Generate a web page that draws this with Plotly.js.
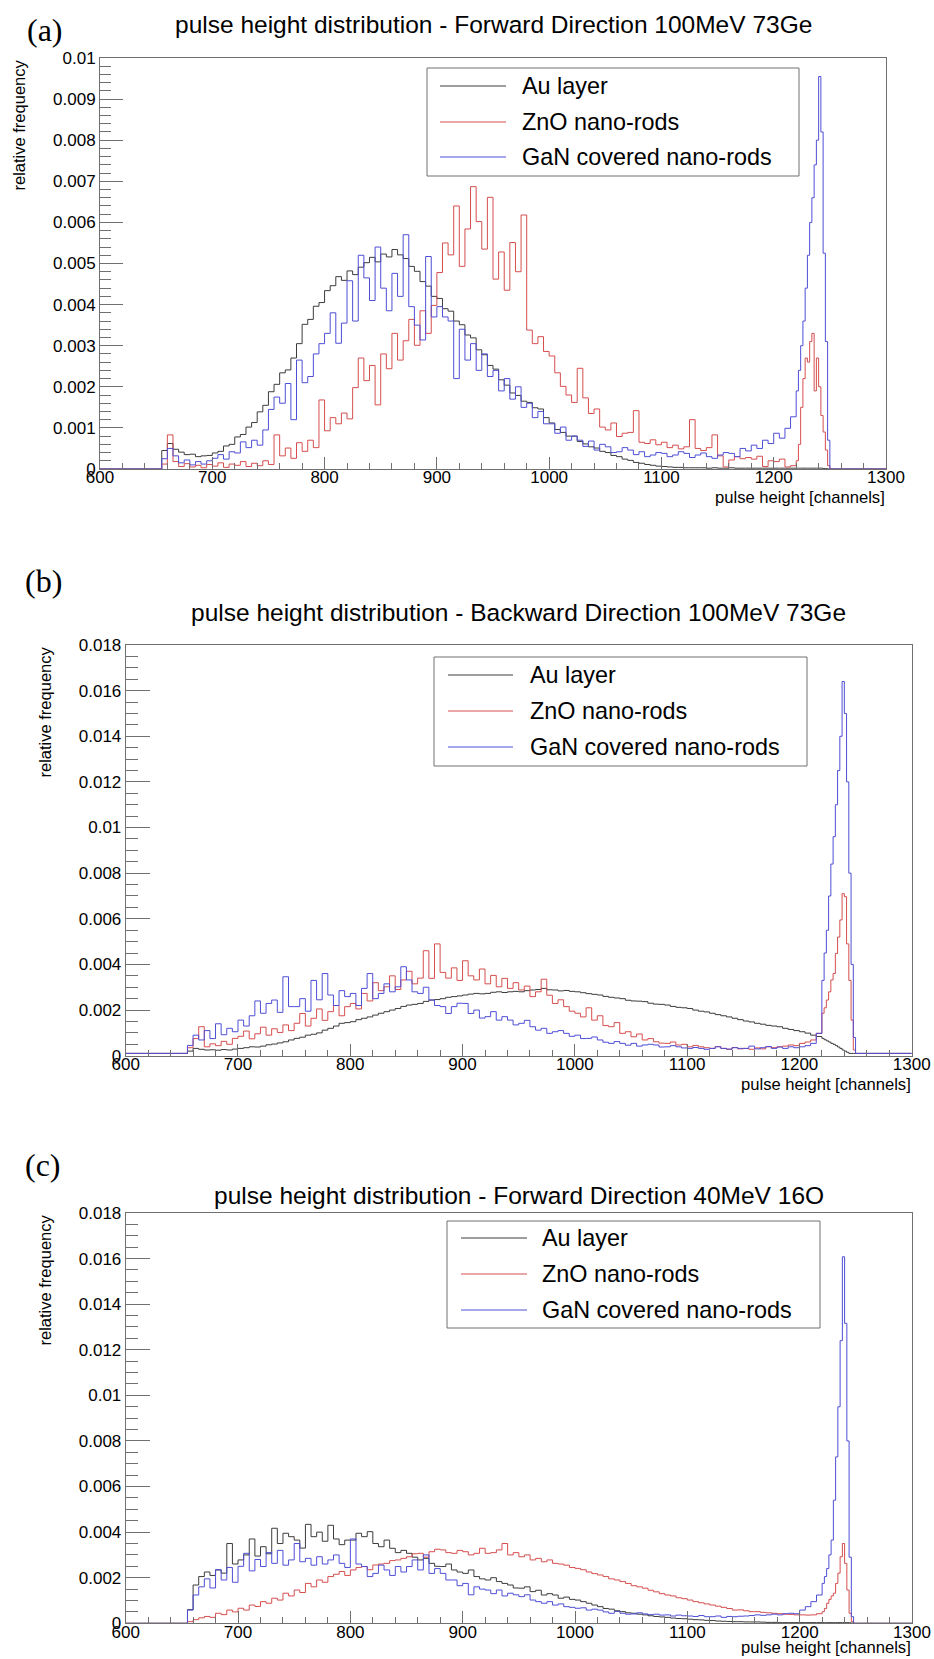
<!DOCTYPE html>
<html><head><meta charset="utf-8">
<script src="https://cdn.plot.ly/plotly-3.0.1.min.js"></script>
<style>html,body{margin:0;padding:0;background:#fff}#chart{width:934px;height:1659px}</style>
</head><body><div id="chart"></div>
<script>
// ---------------- DATA ----------------
// Histogram bins (channel left edges): 600-650, then 5-channel bins 650..1215,
// 2-channel bins 1220..1248 around the peak, then 1250-1300.
const BIN_EDGES = [600];
for (let c = 650; c < 1220; c += 5) BIN_EDGES.push(c);
for (let c = 1220; c < 1250; c += 2) BIN_EDGES.push(c);
BIN_EDGES.push(1250, 1300);

// relative frequency values, in units of 1e-4 (one value per bin)
const UNIT = 1e-4;

const SERIES_NAMES = ['Au layer', 'ZnO nano-rods', 'GaN covered nano-rods'];
const PANEL_TITLES = [
  'pulse height distribution - Forward Direction 100MeV 73Ge',
  'pulse height distribution - Backward Direction 100MeV 73Ge',
  'pulse height distribution - Forward Direction 40MeV 16O'
];
const PANEL_LABELS = ['(a)', '(b)', '(c)'];
const X_TITLE = 'pulse height [channels]';
const Y_TITLE = 'relative frequency';
const Y_MAX = [0.010, 0.018, 0.018];

// (a) Forward 100MeV 73Ge
const A_AU = [0,
0, 4.5, 6.2, 4.8, 4.1, 3.5, 3.6, 3.0, 3.2, 3.3,
3.9, 4.3, 5.6, 6.0, 7.8, 8.4, 10.2, 11.3, 13.9, 15.5,
18.8, 20.6, 23.4, 24.1, 27.0, 30.5, 35.2, 36.4, 39.6, 40.5,
43.4, 44.6, 46.8, 45.9, 48.2, 47.3, 49.1, 50.2, 51.5, 50.4,
52.3, 51.6, 53.4, 52.1, 51.2, 49.3, 48.1, 45.6, 44.5, 42.0,
41.5, 39.0, 38.4, 36.0, 35.1, 32.6, 31.9, 29.0, 27.8, 25.2,
24.3, 21.7, 20.4, 18.5, 17.9, 16.5, 16.2, 14.9, 14.6, 12.5,
11.2, 9.6, 8.9, 8.0, 8.0, 6.7, 6.1, 5.4, 5.1, 4.3,
4.0, 3.3, 3.0, 2.4, 2.1, 1.6, 1.4, 1.1, 0.9, 0.7,
0.6, 0.5, 0.4, 0.4, 0.3, 0.3, 0.3, 0.3, 0.2, 0.3,
0.2, 0.2, 0.3, 0.2, 0.2, 0.2, 0.2, 0.2, 0.2, 0.2,
0.2, 0.2, 0.2, 0.2,
0.2, 0.2, 0.2, 0.2, 0.2, 0.2, 0.2, 0.2, 0.2, 0.2, 0.2, 0.2, 0.1, 0.1, 0,
0];
const A_ZNO = [0,
0, 1.2, 8.3, 1.8, 0.6, 1.3, 0.5, 0.9, 0.3, 1.1,
0.7, 1.5, 0.4, 1.2, 0.9, 1.8, 0.6, 1.4, 0.8, 2.0,
1.1, 8.3, 3.2, 5.1, 2.6, 6.4, 4.3, 7.0, 5.2, 16.8,
9.3, 12.5, 11.0, 13.6, 12.2, 19.8, 27.0, 21.5, 25.2, 15.6,
28.0, 24.4, 33.0, 26.5, 31.2, 36.4, 30.1, 38.5, 33.0, 39.8,
47.8, 55.0, 52.1, 64.0, 49.3, 58.4, 68.7, 60.2, 53.5, 66.1,
46.2, 52.8, 43.5, 55.1, 48.0, 61.8, 33.8, 30.5, 32.2, 28.6,
27.5, 23.4, 20.1, 18.0, 16.2, 24.5, 17.3, 13.5, 14.6, 10.2,
9.5, 11.2, 7.9, 8.7, 8.9, 14.2, 6.5, 6.2, 7.1, 5.9,
6.5, 5.2, 5.8, 4.9, 5.4, 12.0, 5.0, 4.5, 5.2, 8.3,
3.2, 0.5, 2.2, 3.0, 2.5, 2.8, 2.4, 3.1, 0.6, 2.0,
1.8, 2.4, 0.5, 0.8,
2.0, 6.0, 15.0, 22.0, 27.0, 26.0, 31.0, 33.0, 19.0, 27.0, 20.0, 13.0, 9.0, 4.6, 0.8,
0];
const A_GAN = [0,
0, 2.5, 5.0, 3.2, 1.5, 2.2, 1.0, 1.8, 1.2, 2.0,
2.6, 3.5, 2.4, 4.2, 3.9, 6.6, 5.2, 7.0, 5.8, 9.5,
14.5, 17.5, 16.0, 20.8, 12.0, 26.5, 21.0, 22.5, 28.0, 30.5,
33.0, 38.0, 30.6, 35.5, 45.8, 36.0, 52.0, 46.5, 41.0, 54.0,
44.0, 38.5, 47.6, 42.0, 57.0, 39.5, 35.0, 31.4, 51.7, 37.0,
39.5, 37.0, 36.0, 22.0, 34.0, 26.5, 30.5, 24.0, 28.0, 22.5,
24.0, 19.0, 22.0, 17.0, 20.0, 15.0, 16.0, 12.5, 14.0, 11.0,
11.0, 8.7, 10.2, 7.0, 8.0, 7.0, 5.5, 6.8, 4.6, 6.0,
5.4, 4.0, 4.2, 5.2, 4.6, 3.5, 4.2, 3.0, 3.4, 4.0,
3.8, 3.0, 3.4, 4.2, 3.8, 2.8, 3.4, 3.9, 3.0, 2.6,
3.4, 4.0, 3.8, 3.0, 5.0, 4.4, 5.8, 5.0, 7.0, 6.2,
8.7, 7.5, 9.9, 12.7,
19.0, 24.0, 30.0, 36.0, 44.0, 52.0, 60.0, 66.0, 74.0, 80.0, 95.5, 82.0, 52.5, 31.0, 7.0,
0];

// (b) Backward 100MeV 73Ge
const B_AU = [1.0,
1.0, 2.0, 3.2, 2.8, 2.5, 2.6, 2.4, 2.7, 2.5, 2.9,
3.2, 3.5, 3.9, 3.8, 4.2, 4.8, 5.1, 5.6, 6.1, 6.9,
7.6, 8.1, 9.0, 9.4, 10.0, 11.2, 12.0, 13.0, 14.2, 14.5,
14.9, 15.8, 16.4, 17.0, 17.8, 18.6, 19.3, 20.0, 20.7, 21.6,
22.2, 22.5, 22.9, 23.8, 24.4, 24.6, 25.0, 25.6, 25.9, 26.2,
26.6, 27.0, 27.3, 27.1, 27.3, 27.8, 28.0, 27.7, 28.0, 28.2,
28.0, 28.5, 28.8, 29.0, 29.5, 28.9, 28.8, 28.4, 28.6, 28.2,
28.0, 27.6, 27.2, 26.9, 26.6, 26.0, 25.6, 25.3, 25.0, 24.3,
24.0, 23.9, 23.7, 23.0, 22.6, 22.5, 22.2, 21.6, 21.2, 21.0,
20.7, 20.0, 19.5, 19.2, 18.6, 18.0, 17.5, 17.0, 16.4, 15.8,
15.2, 14.8, 14.2, 13.8, 13.3, 13.0, 12.7, 12.0, 11.5, 11.0,
10.5, 9.9, 9.0, 8.4,
7.6, 7.0, 6.5, 6.0, 5.4, 5.0, 4.4, 3.8, 3.2, 2.5, 2.0, 1.5, 1.0, 1.0, 1.0,
1.0];
const B_ZNO = [1.0,
1.0, 3.5, 7.5, 12.7, 3.9, 5.2, 4.4, 6.3, 5.0, 7.6,
8.5, 10.8, 7.4, 9.6, 12.5, 9.0, 11.8, 10.2, 13.5, 11.0,
14.2, 18.5, 13.0, 16.4, 20.5, 15.5, 19.3, 22.0, 17.5, 21.5,
22.9, 20.5, 27.3, 24.0, 32.0, 28.5, 30.2, 35.0, 29.0, 33.2,
37.0, 31.5, 34.0, 46.0, 33.9, 49.0, 36.5, 34.0, 38.5, 33.0,
41.6, 35.0, 33.2, 38.0, 31.5, 35.2, 30.2, 33.9, 29.5, 32.0,
28.8, 30.5, 25.9, 28.0, 33.5, 26.5, 22.9, 24.5, 21.5, 19.5,
18.6, 17.0, 21.0, 15.6, 17.5, 13.2, 12.7, 14.5, 9.8, 10.5,
8.3, 9.5, 6.9, 7.5, 6.1, 5.5, 5.4, 6.0, 4.7, 5.0,
3.9, 4.5, 3.9, 3.5, 3.2, 4.0, 3.2, 2.8, 3.6, 3.0,
3.2, 2.8, 3.4, 3.0, 3.9, 3.5, 3.9, 4.2, 4.7, 4.4,
5.4, 6.0, 6.9, 9.8,
18.6, 21.0, 24.4, 28.0, 33.2, 36.0, 44.8, 52.0, 59.5, 71.0, 69.7, 49.0, 33.0, 15.6, 2.5,
1.0];
const B_GAN = [1.0,
1.0, 4.5, 9.0, 6.9, 11.0, 7.5, 14.0, 9.2, 12.0, 10.5,
15.6, 13.0, 17.5, 24.0, 18.6, 22.9, 24.4, 19.0, 34.6, 21.5,
21.5, 25.0, 19.5, 33.0, 24.5, 36.0, 26.6, 22.0, 28.5, 25.9,
27.3, 22.0, 29.5, 36.0, 25.0, 27.3, 31.5, 28.0, 30.2, 39.0,
33.2, 28.0, 27.3, 30.0, 24.4, 22.0, 21.5, 18.5, 21.5, 23.0,
22.9, 18.5, 20.0, 16.5, 17.1, 19.3, 15.6, 17.1, 15.6, 13.5,
14.2, 15.5, 12.7, 11.2, 12.0, 9.8, 10.5, 11.0, 9.8, 8.5,
9.0, 7.5, 7.6, 8.2, 6.9, 5.9, 5.4, 6.2, 5.4, 4.6,
5.4, 4.2, 4.7, 5.0, 4.7, 3.8, 3.9, 4.4, 3.9, 3.4,
3.2, 3.6, 3.2, 2.8, 3.2, 3.9, 3.2, 2.9, 3.5, 3.2,
3.2, 4.2, 3.0, 3.5, 4.0, 3.2, 3.8, 3.2, 3.9, 3.5,
3.9, 4.4, 5.4, 9.8,
33.0, 45.0, 55.0, 70.0, 84.0, 96.0, 110.0, 125.0, 140.0, 164.0, 150.0, 120.0, 80.0, 40.0, 8.0,
1.0];

// (c) Forward 40MeV 16O
const C_AU = [0,
0, 6.0, 16.8, 20.5, 22.5, 21.0, 23.4, 22.0, 35.0, 26.0,
27.8, 30.0, 37.0, 29.5, 33.6, 30.5, 41.7, 35.0, 39.5, 38.0,
36.5, 33.0, 43.4, 38.0, 40.0, 36.0, 43.0, 37.0, 34.5, 36.5,
36.5, 39.5, 38.0, 40.2, 35.0, 33.6, 36.5, 32.9, 31.0, 32.0,
30.7, 29.0, 27.8, 28.5, 26.3, 25.0, 24.9, 26.0, 23.4, 22.5,
21.9, 23.4, 20.5, 19.5, 19.0, 20.0, 18.3, 17.5, 16.8, 15.5,
15.4, 16.0, 13.9, 14.5, 12.4, 13.0, 12.4, 11.0, 11.5, 10.5,
10.2, 9.5, 8.8, 8.0, 7.3, 6.5, 6.2, 5.5, 5.1, 4.6,
4.4, 4.0, 3.7, 3.3, 3.0, 2.8, 2.6, 2.3, 2.1, 2.0,
1.8, 1.6, 1.5, 1.3, 1.2, 1.0, 0.9, 0.8, 0.7, 0.7,
0.6, 0.6, 0.6, 0.5, 0.4, 0.4, 0.3, 0.3, 0.3, 0.3,
0.3, 0.3, 0.3, 0.3,
0.3, 0.3, 0.3, 0.3, 0.3, 0.3, 0.3, 0.3, 0.3, 0.3, 0.3, 0.3, 0.2, 0.1, 0,
0];
const C_ZNO = [0,
0, 0.7, 1.6, 2.4, 3.0, 2.6, 4.4, 3.8, 5.8, 5.0,
6.6, 5.8, 8.0, 7.4, 9.5, 8.8, 11.0, 10.2, 13.2, 12.0,
14.6, 13.5, 17.5, 16.0, 19.0, 18.0, 20.5, 21.5, 22.7, 21.0,
23.4, 24.5, 24.9, 23.5, 25.6, 26.0, 26.3, 27.5, 27.8, 28.5,
29.2, 30.5, 30.7, 29.0, 31.4, 32.5, 32.2, 31.0, 30.7, 32.0,
31.4, 30.0, 30.7, 32.9, 30.7, 31.0, 32.2, 35.0, 30.0, 31.0,
29.2, 30.0, 27.8, 28.5, 27.0, 27.8, 26.3, 26.0, 25.5, 24.5,
24.1, 23.5, 22.5, 21.8, 21.2, 20.5, 19.5, 19.0, 18.3, 17.5,
16.5, 16.0, 15.4, 14.5, 13.8, 13.0, 12.4, 12.0, 11.2, 10.8,
10.2, 9.5, 9.0, 8.5, 8.0, 7.5, 7.0, 6.5, 5.8, 5.9,
5.5, 5.1, 5.1, 4.8, 4.6, 4.4, 4.2, 4.0, 3.9, 3.7,
3.7, 3.6, 3.7, 4.2,
5.1, 6.5, 8.8, 10.5, 12.0, 13.2, 17.5, 22.0, 29.2, 35.0, 26.3, 14.6, 4.4, 0.7, 0,
0];
const C_GAN = [0,
0, 5.8, 12.4, 16.0, 19.5, 15.5, 23.5, 19.0, 24.5, 18.0,
25.0, 30.7, 23.0, 28.0, 24.9, 31.0, 26.3, 32.0, 25.5, 27.8,
35.0, 27.0, 28.5, 25.5, 29.2, 26.0, 27.8, 30.0, 26.3, 24.5,
37.0, 26.0, 24.9, 20.5, 21.9, 25.5, 23.4, 21.0, 24.9, 22.5,
24.9, 27.8, 23.4, 30.0, 21.9, 24.0, 21.9, 19.0, 19.0, 16.5,
17.5, 12.5, 16.0, 15.0, 14.6, 13.0, 14.6, 12.0, 13.2, 12.5,
11.7, 12.5, 10.2, 9.5, 8.8, 9.5, 8.0, 8.5, 7.3, 7.0,
6.6, 6.8, 5.8, 6.2, 5.8, 5.0, 4.4, 5.2, 4.4, 4.0,
4.1, 4.6, 4.1, 3.8, 4.0, 3.6, 3.7, 3.2, 3.6, 3.3,
3.2, 3.0, 3.4, 2.9, 2.9, 3.2, 2.6, 3.0, 2.9, 3.1,
3.2, 3.4, 3.7, 3.5, 3.7, 4.0, 3.7, 4.2, 4.4, 4.2,
5.8, 7.3, 9.5, 12.4,
17.5, 20.5, 24.0, 30.0, 36.5, 54.0, 73.0, 95.0, 124.0, 160.8, 131.6, 80.0, 29.0, 2.9, 0,
0];

const PANEL_DATA = [[A_AU, A_ZNO, A_GAN], [B_AU, B_ZNO, B_GAN], [C_AU, C_ZNO, C_GAN]];

// ---------------- STYLE / LAYOUT ----------------
const W = 934, H = 1659;
const COLORS = ['rgb(60,60,60)', 'rgb(214,78,78)', 'rgb(78,78,214)'];
const FRAME = '#707070';
const SANS = 'Liberation Sans, Arial, Helvetica, sans-serif';
const SERIF = 'Liberation Serif, Times New Roman, serif';

const PANELS = [
  {px: [100, 886],   py: [58, 469],     ytick: 0.001, yminor: 0.0002, ytl: 23, yml: 11,
   box: [427, 68, 799, 176],   line: [440, 506], textX: 520, rows: [86, 122, 157],
   titleY: 25, label: [45, 30], ytitleX: 19, xtitle: {y: 469 + 29, anchor: 'middle'}},
  {px: [125.7, 911.7], py: [645, 1055.7], ytick: 0.002, yminor: 0.0005, ytl: 24, yml: 12,
   box: [434, 657, 807, 766],  line: [448, 513], textX: 528, rows: [675, 711, 747],
   titleY: 612, label: [43, 581], ytitleX: 44, xtitle: {y: 1055.7 + 29, anchor: 'middle'}},
  {px: [125.7, 912],   py: [1213, 1623.3], ytick: 0.002, yminor: 0.0005, ytl: 24, yml: 12,
   box: [447, 1221, 820, 1328], line: [461, 527], textX: 540, rows: [1238, 1274, 1310],
   titleY: 1195, label: [43, 1165], ytitleX: 44, xtitle: {y: 1658, anchor: 'bottom'}}
];

const fx = p => p / W;
const fy = p => 1 - p / H;

const traces = [];
const layout = {
  width: W, height: H, autosize: false,
  margin: {l: 0, r: 0, t: 0, b: 0, pad: 0},
  paper_bgcolor: '#fff', plot_bgcolor: '#fff',
  showlegend: false,
  font: {family: SANS, color: '#000'},
  shapes: [], annotations: []
};

PANELS.forEach((P, i) => {
  const sfx = i === 0 ? '' : String(i + 1);
  const xa = 'xaxis' + sfx, ya = 'yaxis' + sfx;
  PANEL_DATA[i].forEach((vals, k) => {
    const y = vals.map(v => v * UNIT);
    y.push(y[y.length - 1]);
    traces.push({
      type: 'scatter', mode: 'lines', name: SERIES_NAMES[k],
      x: BIN_EDGES, y: y,
      xaxis: 'x' + sfx, yaxis: 'y' + sfx,
      line: {shape: 'hv', color: COLORS[k], width: 1},
      hoverinfo: 'x+y+name'
    });
  });
  layout[xa] = {
    domain: [fx(P.px[0]), fx(P.px[1])], anchor: 'y' + sfx,
    range: [600, 1300], showgrid: false, zeroline: false,
    showline: true, linecolor: FRAME, linewidth: 1, mirror: true,
    ticks: 'inside', ticklen: 12, tickcolor: FRAME, tickwidth: 1,
    tick0: 600, dtick: 100, ticklabelstandoff: -7,
    minor: {ticks: 'inside', ticklen: 6, tickcolor: FRAME, tickwidth: 1, tick0: 600, dtick: 20, showgrid: false},
    tickfont: {family: SANS, size: 17, color: '#000'}
  };
  layout[ya] = {
    domain: [fy(P.py[1]), fy(P.py[0])], anchor: 'x' + sfx,
    range: [0, Y_MAX[i]], showgrid: false, zeroline: false,
    showline: true, linecolor: FRAME, linewidth: 1, mirror: true,
    ticks: 'inside', ticklen: P.ytl, tickcolor: FRAME, tickwidth: 1,
    tick0: 0, dtick: P.ytick, tickformat: '~g',
    minor: {ticks: 'inside', ticklen: P.yml, tickcolor: FRAME, tickwidth: 1, tick0: 0, dtick: P.yminor, showgrid: false},
    tickfont: {family: SANS, size: 17, color: '#000'}
  };
  const cx = (P.px[0] + P.px[1]) / 2;
  layout.annotations.push(
    {text: PANEL_TITLES[i], xref: 'paper', yref: 'paper', x: fx(cx), y: fy(P.titleY),
     xanchor: 'center', yanchor: 'middle', showarrow: false, font: {family: SANS, size: 24.5, color: '#000'}},
    {text: PANEL_LABELS[i], xref: 'paper', yref: 'paper', x: fx(P.label[0]), y: fy(P.label[1]),
     xanchor: 'center', yanchor: 'middle', showarrow: false, font: {family: SERIF, size: 32, color: '#000'}},
    {text: Y_TITLE, xref: 'paper', yref: 'paper', x: fx(P.ytitleX), y: fy(P.py[0]),
     xanchor: 'center', yanchor: 'top', textangle: -90, showarrow: false, font: {family: SANS, size: 16.5, color: '#000'}},
    {text: X_TITLE, xref: 'paper', yref: 'paper', x: fx(P.px[1]), y: fy(P.xtitle.y),
     xanchor: 'right', yanchor: P.xtitle.anchor, showarrow: false, borderpad: 0,
     font: {family: SANS, size: 16.6, color: '#000'}}
  );
  // legend box
  layout.shapes.push({type: 'rect', xref: 'paper', yref: 'paper',
    x0: fx(P.box[0]), x1: fx(P.box[2]), y0: fy(P.box[3]), y1: fy(P.box[1]),
    line: {color: FRAME, width: 1}, fillcolor: 'rgba(255,255,255,1)', layer: 'above'});
  SERIES_NAMES.forEach((nm, k) => {
    layout.shapes.push({type: 'line', xref: 'paper', yref: 'paper',
      x0: fx(P.line[0]), x1: fx(P.line[1]), y0: fy(P.rows[k]), y1: fy(P.rows[k]),
      line: {color: COLORS[k], width: 1}, layer: 'above'});
    layout.annotations.push({text: nm, xref: 'paper', yref: 'paper', x: fx(P.textX), y: fy(P.rows[k]),
      xanchor: 'left', yanchor: 'middle', showarrow: false, font: {family: SANS, size: 23.4, color: '#000'}});
  });
});

Plotly.newPlot('chart', traces, layout, {staticPlot: true, displayModeBar: false});
</script></body></html>
